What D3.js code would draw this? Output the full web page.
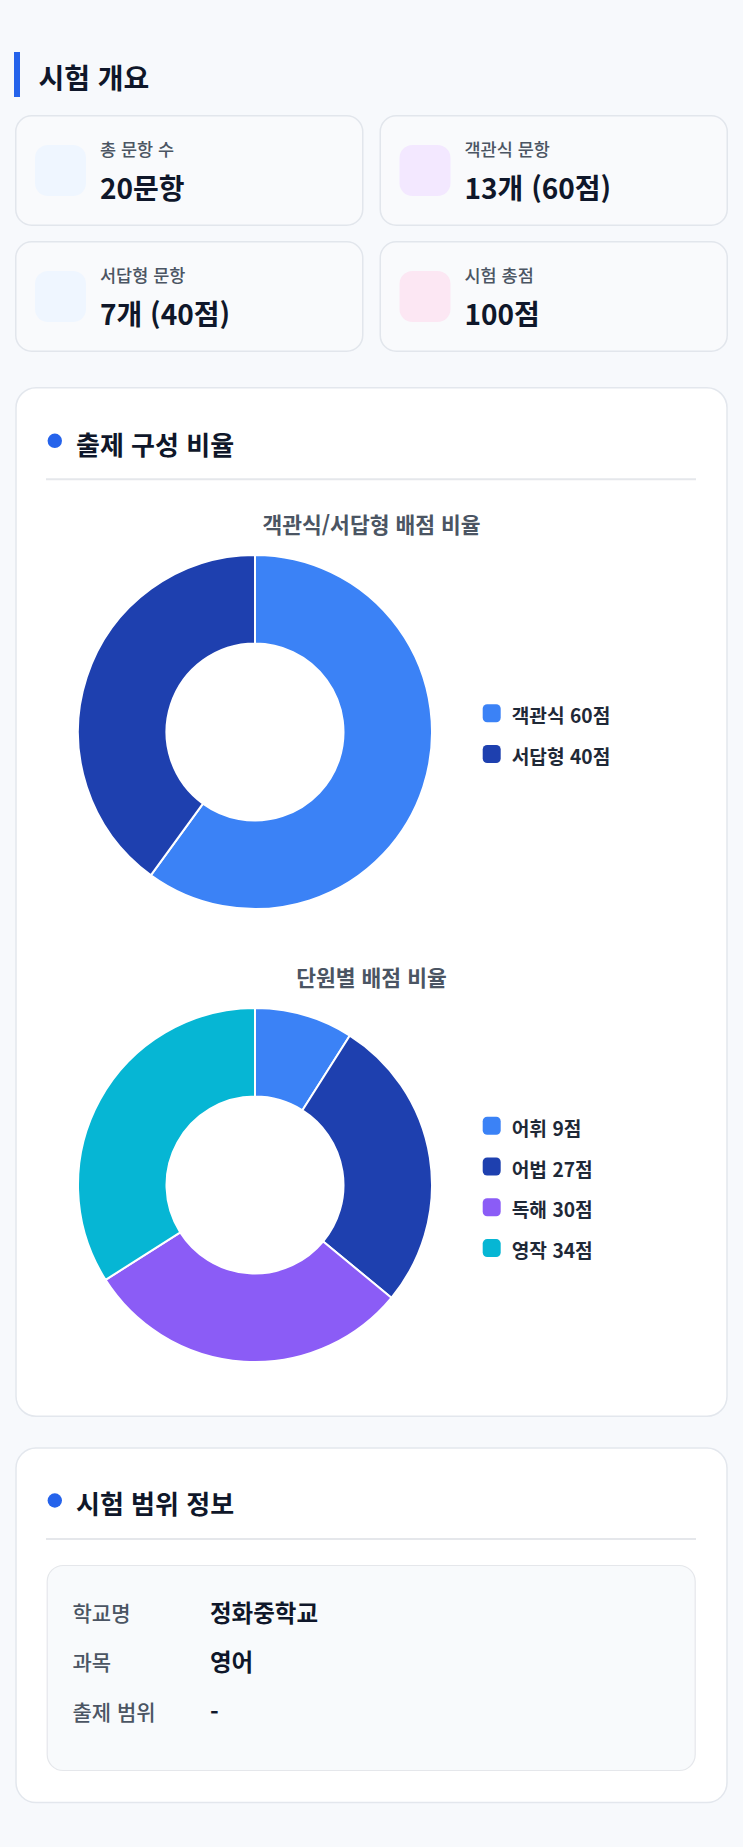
<!DOCTYPE html>
<html lang="ko">
<head>
<meta charset="utf-8">
<script src="https://cdn.jsdelivr.net/npm/d3@7/dist/d3.min.js"></script>
<style>
  html, body { margin: 0; padding: 0; background: #f7f9fc; }
  svg { display: block; font-family: "Noto Sans CJK KR", "Noto Sans", sans-serif; }
</style>
</head>
<body>
<svg id="page" width="743" height="1847"></svg>
<script>
// ---- data ----
const summaryLabels = ["총 문항 수", "객관식 문항", "서답형 문항", "시험 총점"];
const summaryValues = ["20문항", "13개 (60점)", "7개 (40점)", "100점"];
const summaryIconColors = ["#eff6ff", "#f3e8ff", "#eff6ff", "#fce7f3"];

const typeTitle = "객관식/서답형 배점 비율";
const typeCategories = ["객관식", "서답형"];
const typeValues = [60, 40];
const typeColors = ["#3b82f6", "#1e40af"];

const unitTitle = "단원별 배점 비율";
const unitCategories = ["어휘", "어법", "독해", "영작"];
const unitValues = [9, 27, 30, 34];
const unitColors = ["#3b82f6", "#1e40af", "#8b5cf6", "#06b6d4"];

const infoLabels = ["학교명", "과목", "출제 범위"];
const infoValues = ["정화중학교", "영어", "-"];

const sectionTitles = ["시험 개요", "출제 구성 비율", "시험 범위 정보"];

// ---- drawing ----
const svg = d3.select("#page");
const DARK = "#0f172a", GRAY = "#4b5563", BORDER = "#e5e7eb", ACCENT = "#2563eb";

svg.append("rect").attr("width", 743).attr("height", 1847).attr("fill", "#f7f9fc");

// Section 1 header
svg.append("rect").attr("x", 14).attr("y", 52).attr("width", 6).attr("height", 45).attr("fill", ACCENT);
svg.append("text").attr("x", 38.5).attr("y", 89).attr("font-size", 28).attr("font-weight", 700)
  .attr("fill", DARK).text(sectionTitles[0]);

// Summary cards
const cardW = 348.5, cardH = 111;
const cardX = [15, 379.5], cardY = [115, 241];
const cards = svg.selectAll("g.card").data(summaryLabels).join("g")
  .attr("class", "card")
  .attr("transform", (d, i) => `translate(${cardX[i % 2]},${cardY[Math.floor(i / 2)]})`);
cards.append("rect").attr("x", 0.75).attr("y", 0.75).attr("width", cardW - 1.5).attr("height", cardH - 1.5)
  .attr("rx", 16).attr("fill", "#f9fafc").attr("stroke", "#e2e6ec").attr("stroke-width", 1.5);
cards.append("rect").attr("x", 20).attr("y", 30).attr("width", 51).attr("height", 51).attr("rx", 13)
  .attr("fill", (d, i) => summaryIconColors[i]);
cards.append("text").attr("x", 85).attr("y", 41.3).attr("font-size", 17.5).attr("font-weight", 500)
  .attr("fill", GRAY).text(d => d);
cards.append("text").attr("x", 85).attr("y", 84).attr("font-size", 28).attr("font-weight", 700)
  .attr("fill", DARK).text((d, i) => summaryValues[i]);

// Section card helper
function sectionCard(y, h, title, dotY) {
  svg.append("rect").attr("x", 16).attr("y", y + 0.75).attr("width", 711).attr("height", h - 1.5)
    .attr("rx", 20).attr("fill", "#ffffff").attr("stroke", "#e3e7ed").attr("stroke-width", 1.5);
  svg.append("circle").attr("cx", 54.8).attr("cy", dotY).attr("r", 7.2).attr("fill", ACCENT);
  svg.append("text").attr("x", 76).attr("y", dotY + 13.8).attr("font-size", 26).attr("font-weight", 700)
    .attr("fill", DARK).text(title);
  svg.append("line").attr("x1", 46).attr("x2", 696).attr("y1", dotY + 38.5).attr("y2", dotY + 38.5)
    .attr("stroke", BORDER).attr("stroke-width", 2);
}

sectionCard(387, 1030, sectionTitles[1], 440.8);

// Donut helper
function donut(cx, cy, title, titleY, cats, vals, colors, legendY0, legendStep) {
  svg.append("text").attr("x", 371.5).attr("y", titleY).attr("text-anchor", "middle")
    .attr("font-size", 21.5).attr("font-weight", 600).attr("fill", GRAY).text(title);
  const pie = d3.pie().sort(null).value(d => d)(vals);
  const arc = d3.arc().innerRadius(88.5).outerRadius(177);
  const g = svg.append("g").attr("transform", `translate(${cx},${cy})`);
  g.selectAll("path").data(pie).join("path")
    .attr("d", arc).attr("fill", (d, i) => colors[i])
    .attr("stroke", "#ffffff").attr("stroke-width", 2).attr("stroke-linejoin", "round");
  const yScale = d3.scalePoint().domain(cats).range([legendY0, legendY0 + legendStep * (cats.length - 1)]);
  const lg = svg.append("g").selectAll("g").data(cats).join("g")
    .attr("transform", d => `translate(482.7,${yScale(d)})`);
  lg.append("rect").attr("x", 0).attr("y", -9).attr("width", 18).attr("height", 18).attr("rx", 4.5)
    .attr("fill", (d, i) => colors[i]);
  lg.append("text").attr("x", 29).attr("y", 10).attr("font-size", 19.2).attr("font-weight", 600)
    .attr("fill", "#1f2937").text((d, i) => `${d} ${vals[i]}점`);
}

donut(255, 732, typeTitle, 533, typeCategories, typeValues, typeColors, 713.3, 40.7);
donut(255, 1185, unitTitle, 986, unitCategories, unitValues, unitColors, 1125.7, 40.8);

// Section 3
sectionCard(1447.3, 356, sectionTitles[2], 1500.5);
svg.append("rect").attr("x", 47.2).attr("y", 1565.5).attr("width", 648).attr("height", 205)
  .attr("rx", 16).attr("fill", "#f8fafc").attr("stroke", BORDER).attr("stroke-width", 1.2);
const rowY = d3.scalePoint().domain(infoLabels).range([1612.5, 1711.5]);
const rows = svg.append("g").selectAll("g").data(infoLabels).join("g")
  .attr("transform", d => `translate(0,${rowY(d)})`);
rows.append("text").attr("x", 72.5).attr("y", 8).attr("font-size", 21).attr("font-weight", 500)
  .attr("fill", GRAY).text(d => d);
rows.append("text").attr("x", 210).attr("y", 9.2).attr("font-size", 23.5).attr("font-weight", 700)
  .attr("fill", DARK).text((d, i) => infoValues[i]);
</script>
</body>
</html>
